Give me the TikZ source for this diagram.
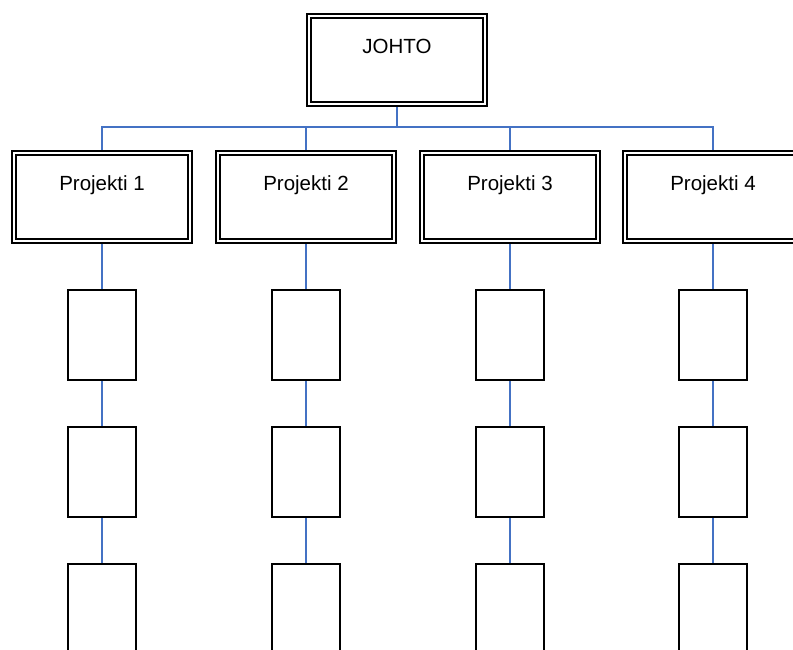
\documentclass[tikz,border=0pt]{standalone}
\usepackage{fontspec}
\setmainfont{Liberation Sans}
\usetikzlibrary{backgrounds}
\definecolor{linkblue}{RGB}{68,114,196}
\tikzset{
  bigbox/.style={draw=black, double=white, double distance=2pt, line width=1.7pt,
    fill=white, minimum width=176pt, minimum height=88pt, inner sep=0pt, outer sep=0pt},
  smallbox/.style={draw=black, line width=2pt, fill=white,
    minimum width=68pt, minimum height=90pt, inner sep=0pt, outer sep=0pt},
  lbl/.style={anchor=base, inner sep=0pt, font=\fontsize{20.5}{24}\selectfont},
  link/.style={draw=linkblue, line width=2pt}
}
\begin{document}
\begin{tikzpicture}[x=1pt, y=-1pt]
\useasboundingbox (0,0) rectangle (793,650);
\clip (0,0) rectangle (793,650);
% top box
\node[bigbox] (johto) at (397,60) {};
\node[lbl] (tj) at ([yshift=6.5pt]johto.center) {JOHTO};
% project boxes
\foreach \i/\x in {1/102, 2/306, 3/510, 4/713} {
  \node[bigbox] (p\i) at (\x,197) {};
  \node[lbl] (t\i) at ([yshift=6pt]p\i.center) {Projekti \i};
  \node[smallbox] (a\i) at (\x,335) {};
  \node[smallbox] (b\i) at (\x,472) {};
  \node[smallbox] (c\i) at (\x,609) {};
}
\coordinate (bus) at (397,127);
\begin{pgfonlayer}{background}
  \draw[link] (johto.south) -- (bus);
  \foreach \i in {1,2,3,4} {
    \draw[link] (bus) -| (p\i.north);
    \draw[link] (p\i.south) -- (a\i.north);
    \draw[link] (a\i.south) -- (b\i.north);
    \draw[link] (b\i.south) -- (c\i.north);
  }
\end{pgfonlayer}
\end{tikzpicture}
\end{document}
